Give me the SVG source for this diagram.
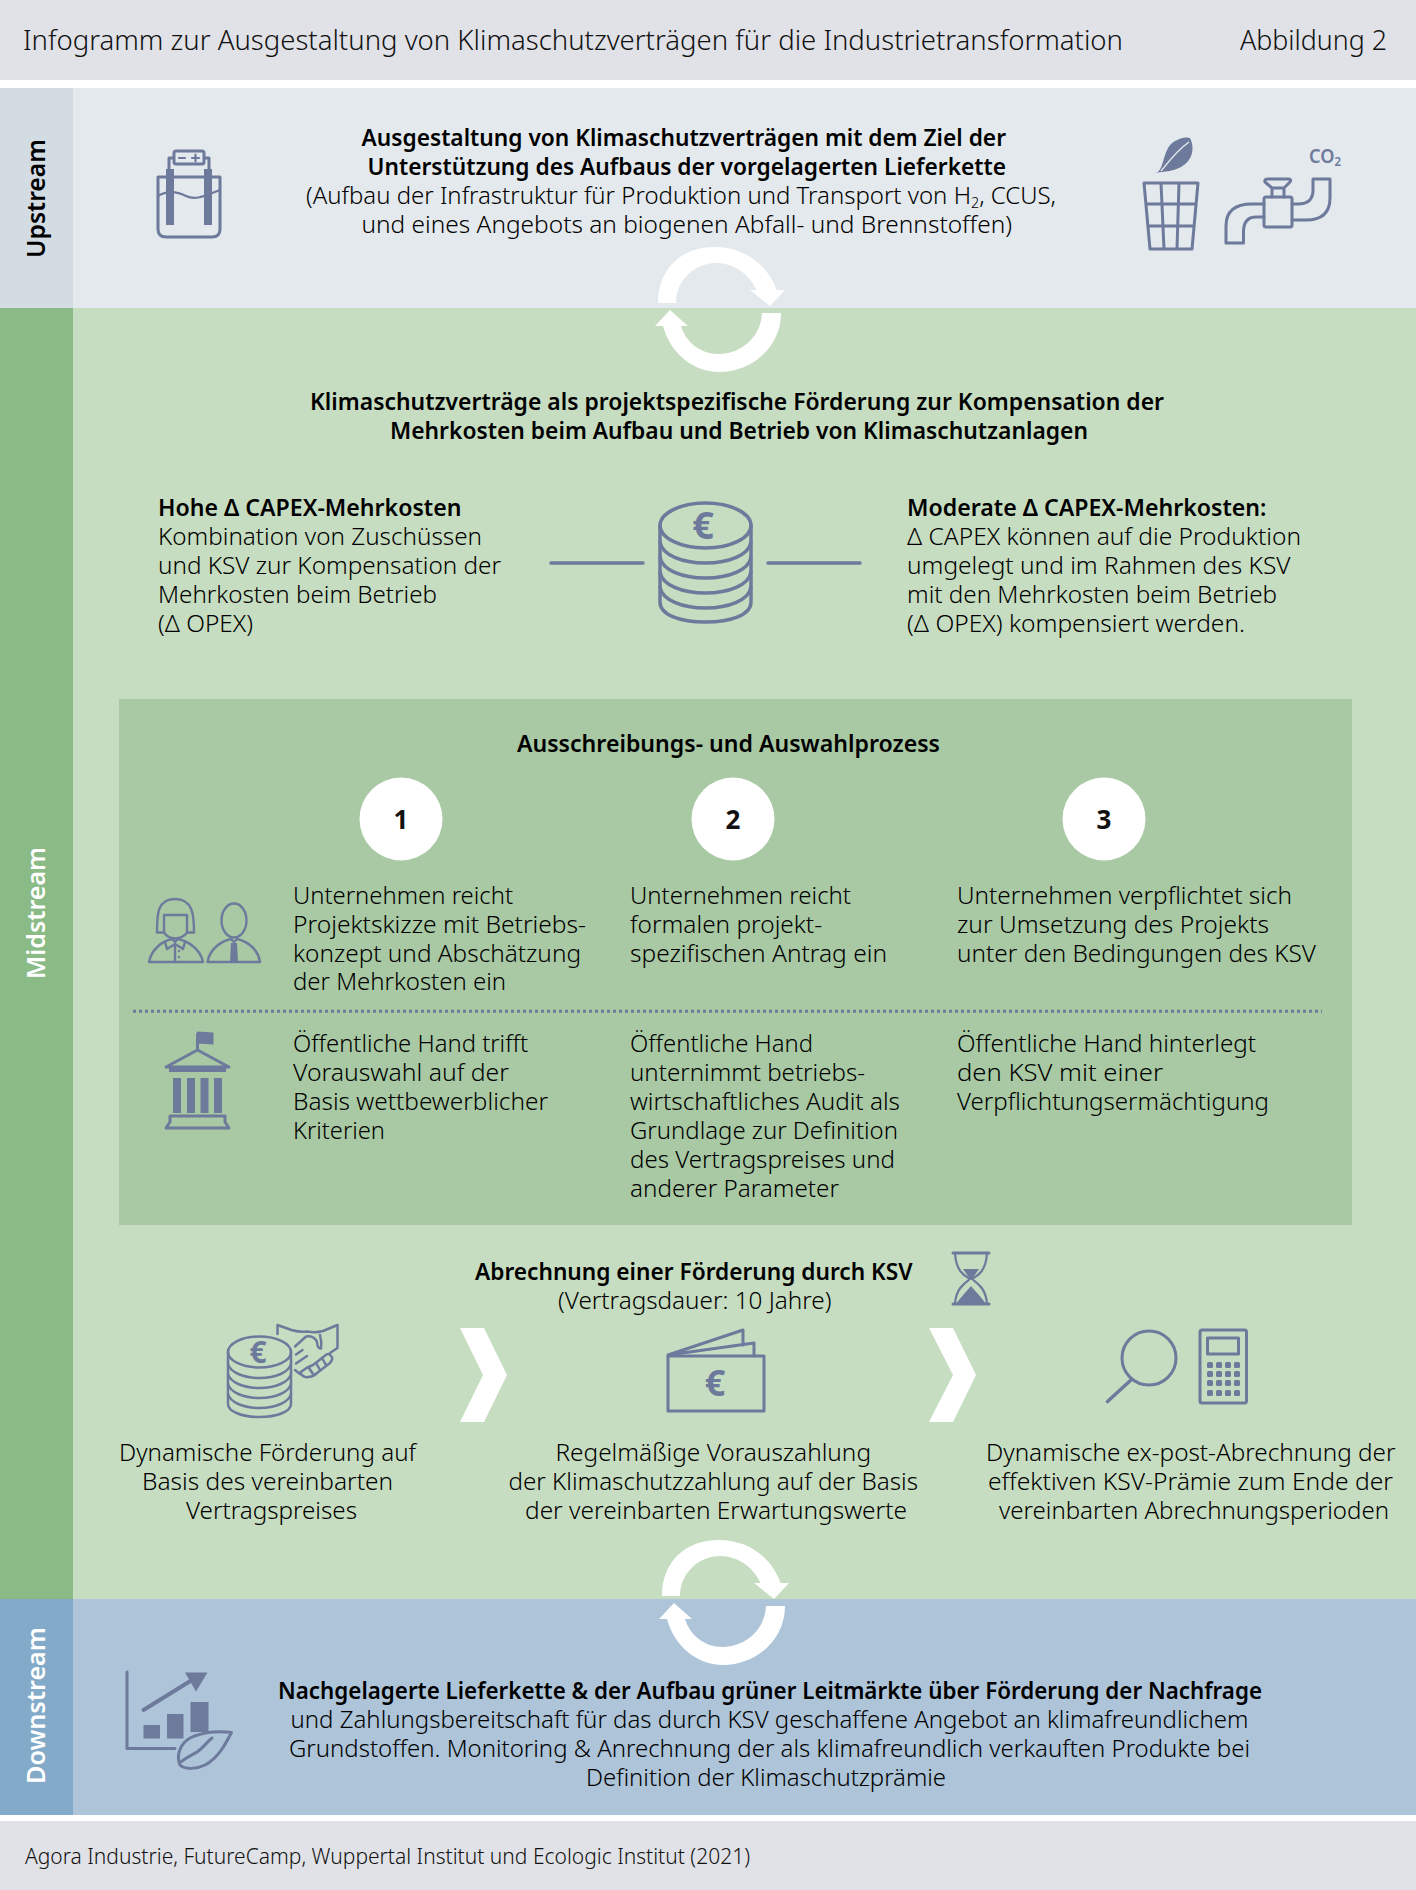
<svg xmlns="http://www.w3.org/2000/svg" width="1416" height="1890" viewBox="0 0 1416 1890">
<style>
text{font-family:"Noto Sans","Liberation Sans",sans-serif;font-size:23.5px;fill:#000;font-weight:300}
.b{font-weight:600;fill:#000}
.s{font-weight:600;font-size:25px}
.w{fill:#fff}
.h{font-size:27px;fill:#111}
.f{font-size:21px;fill:#111}
.n{font-weight:700;font-size:26px;fill:#111;text-anchor:middle}
.e{font-weight:700;fill:#6d7a9c;text-anchor:middle}
.i{fill:none;stroke:#6d7a9c;stroke-width:3;stroke-linejoin:round;stroke-linecap:round}
.t{stroke-width:2.2}
.fl{fill:#6d7a9c;stroke:none}
</style>
<defs>
<g id="cycle" fill="#fff">
<path d="M658,303C658,268 682,247 715,247C745,247 768,265 777,291L757,291C750,275 735,263 716,263C695,263 676,280 676,303Z"/>
<path d="M781,313C781,347 752,372 719,372C692,372 670,352 663,326L681,326C686,342 700,354 719,354C741,354 761,337 762,313Z"/>
<polygon points="750,290 785,290 770,306"/>
<polygon points="655,326 688,326 670,310"/>
</g>
</defs>
<g id="bands">
<rect x="0" y="0" width="1416" height="1890" fill="#fff"/>
<rect x="0" y="0" width="1416" height="80" fill="#e0e2e7"/>
<rect x="0" y="88" width="1416" height="220" fill="#e4e9ed"/>
<rect x="0" y="88" width="73" height="220" fill="#d3dbe3"/>
<rect x="0" y="308" width="1416" height="1291" fill="#c7ddc1"/>
<rect x="0" y="308" width="73" height="1291" fill="#8aba85"/>
<rect x="0" y="1599" width="1416" height="216" fill="#adc4d9"/>
<rect x="0" y="1599" width="73" height="216" fill="#83abc9"/>
<rect x="0" y="1821" width="1416" height="69" fill="#e0e2e7"/>
<rect x="119" y="699" width="1233" height="526" fill="#a9c9a4"/>
</g>
<g id="header">
<text class="h" x="23" y="50" textLength="1100" lengthAdjust="spacingAndGlyphs">Infogramm zur Ausgestaltung von Klimaschutzverträgen für die Industrietransformation</text>
<text class="h" x="1240" y="50" textLength="147" lengthAdjust="spacingAndGlyphs">Abbildung 2</text>
</g>
<g id="labels">
<text class="s" transform="translate(45,258) rotate(-90)" textLength="119" lengthAdjust="spacingAndGlyphs">Upstream</text>
<text class="s w" transform="translate(45,979) rotate(-90)" textLength="132" lengthAdjust="spacingAndGlyphs">Midstream</text>
<text class="s w" transform="translate(45,1784) rotate(-90)" textLength="157" lengthAdjust="spacingAndGlyphs">Downstream</text>
</g>
<g id="cycle-top"><use href="#cycle"/></g>
<g id="cycle-bottom"><use href="#cycle" transform="translate(4,1293)"/></g>
<g id="upstream">
<text class="b" x="361.500" y="146" textLength="644.500" lengthAdjust="spacingAndGlyphs">Ausgestaltung von Klimaschutzverträgen mit dem Ziel der</text>
<text class="b" x="367.500" y="175" textLength="638.500" lengthAdjust="spacingAndGlyphs">Unterstützung des Aufbaus der vorgelagerten Lieferkette</text>
<text x="306" y="204" textLength="750" lengthAdjust="spacingAndGlyphs">(Aufbau der Infrastruktur für Produktion und Transport von H<tspan font-size="14" dy="4">2</tspan><tspan dy="-4">, CCUS,</tspan></text>
<text x="361.500" y="233" textLength="650.500" lengthAdjust="spacingAndGlyphs">und eines Angebots an biogenen Abfall- und Brennstoffen)</text>
</g>
<g id="icon-battery" class="i">
<path d="M158,177H220V229Q220,237 212,237H166Q158,237 158,229Z"/>
<path d="M169,177V158H209V177"/>
<rect x="174" y="151" width="30" height="13" rx="2" fill="#e4e9ed"/>
<path d="M179,158h6M192,158h7M195.500,154.500v7" class="i t"/>
<path d="M158,196C168,190 178,192 186,196S200,198 220,190" class="i t"/>
<rect class="fl" x="166" y="169" width="8" height="56"/>
<rect class="fl" x="204" y="169" width="8" height="56"/>
</g>
<g id="icon-waste">
<path class="fl" d="M1156,173C1165,170 1162,148 1175,141C1182,137 1187,137 1190,138C1195,148 1193,160 1181,167C1172,172 1165,171 1156,173Z"/>
<path d="M1161,171C1168,163 1175,152 1189,142" fill="none" stroke="#e4e9ed" stroke-width="1.500"/>
<path class="i" d="M1144,183H1198L1192,249H1150ZM1146,204H1196M1148,226H1194M1161,183L1164,249M1179,183L1177,249"/>
</g>
<g id="icon-faucet" class="i">
<path d="M1226,243V226Q1226,204 1252,204H1264M1243.500,243V232Q1243.500,217 1256,217H1264M1226,243H1243.500"/>
<rect x="1264" y="197" width="28" height="30" rx="2"/>
<path d="M1272,197V188L1265,182Q1264,179 1268,179H1288Q1292,179 1290,182L1284,188V197M1272,188H1284"/>
<path d="M1292,204H1298Q1313,204 1313,190V179H1330V198Q1330,220 1306,220H1292"/>
</g>
<text id="label-co2" x="1309" y="163" style="font-weight:600;fill:#6d7a9c;font-size:19px" textLength="32" lengthAdjust="spacingAndGlyphs">CO<tspan style="font-size:12px" dy="3">2</tspan></text>
<g id="midstream-head">
<text class="b" x="310" y="410" textLength="854" lengthAdjust="spacingAndGlyphs">Klimaschutzverträge als projektspezifische Förderung zur Kompensation der</text>
<text class="b" x="390" y="439" textLength="698" lengthAdjust="spacingAndGlyphs">Mehrkosten beim Aufbau und Betrieb von Klimaschutzanlagen</text>
<text class="b" x="158" y="516" textLength="303.500" lengthAdjust="spacingAndGlyphs">Hohe Δ CAPEX-Mehrkosten</text>
<text x="158" y="545" textLength="324" lengthAdjust="spacingAndGlyphs">Kombination von Zuschüssen</text>
<text x="158" y="574" textLength="343" lengthAdjust="spacingAndGlyphs">und KSV zur Kompensation der</text>
<text x="158" y="603" textLength="279" lengthAdjust="spacingAndGlyphs">Mehrkosten beim Betrieb</text>
<text x="158" y="632" textLength="95" lengthAdjust="spacingAndGlyphs">(Δ OPEX)</text>
<text class="b" x="907" y="516" textLength="359.500" lengthAdjust="spacingAndGlyphs">Moderate Δ CAPEX-Mehrkosten:</text>
<text x="907" y="545" textLength="394" lengthAdjust="spacingAndGlyphs">Δ CAPEX können auf die Produktion</text>
<text x="907" y="574" textLength="383.500" lengthAdjust="spacingAndGlyphs">umgelegt und im Rahmen des KSV</text>
<text x="907" y="603" textLength="370" lengthAdjust="spacingAndGlyphs">mit den Mehrkosten beim Betrieb</text>
<text x="907" y="632" textLength="338" lengthAdjust="spacingAndGlyphs">(Δ OPEX) kompensiert werden.</text>
</g>
<g id="icon-coins" class="i" style="stroke-width:3.500">
<ellipse cx="705.500" cy="525.500" rx="45.500" ry="22.500"/>
<path d="M660,525.500V602C660,615 680,622 705.500,622S751,615 751,602V525.500"/>
<path d="M660,542C662,555 682,563 705.500,563S749,555 751,542M660,557C662,570 682,578 705.500,578S749,570 751,557M660,572C662,585 682,593 705.500,593S749,585 751,572M660,587C662,600 682,608 705.500,608S749,600 751,587"/>
<path d="M551,563H643M768,563H860"/>
</g>
<text id="euro-1" class="e" x="703" y="539" style="font-size:38px">€</text>
<g id="process-head">
<text class="b" x="517" y="752" textLength="423" lengthAdjust="spacingAndGlyphs">Ausschreibungs- und Auswahlprozess</text>
</g>
<g id="step-1"><circle cx="401" cy="819" r="41.500" fill="#fff"/><text class="n" x="401" y="829">1</text></g>
<g id="step-2"><circle cx="733" cy="819" r="41.500" fill="#fff"/><text class="n" x="733" y="829">2</text></g>
<g id="step-3"><circle cx="1104" cy="819" r="41.500" fill="#fff"/><text class="n" x="1104" y="829">3</text></g>
<g id="icon-people" class="i" style="stroke-width:2.400">
<path d="M157,932.500C157,915 157,899 175,899S194,915 194,932.500Z"/>
<path d="M164,932.500V915H187V932.500C187,932 185,938 175,938.500C166,938 164,932 164,932.500Z" fill="#a9c9a4"/>
<path d="M149,962C152,948 163,941 172,939L175,942L178,939C187,941 200,948 203,962Z"/>
<path d="M165,942L167,949L175,944L183,949L185,942M175,944V962"/>
<circle class="fl" cx="179" cy="951" r="1.200"/><circle class="fl" cx="179" cy="957" r="1.200"/>
<ellipse cx="234" cy="920.500" rx="12.500" ry="17"/>
<path d="M207.500,962C210,948 222,941 231,939L234,942L237,939C246,941 258,948 260,962Z"/>
<path class="fl" d="M231,943H237L238,962H230Z"/>
</g>
<g id="icon-gov">
<path class="i" d="M197.500,1034V1048"/>
<path class="fl" d="M197,1031.500L213.500,1032.500V1044.500L197,1043.500Z"/>
<path class="i" d="M166,1067L197.500,1050L229,1067Z"/>
<rect class="fl" x="169" y="1068" width="57" height="4"/>
<rect class="fl" x="173" y="1078" width="8" height="35"/>
<rect class="fl" x="187" y="1078" width="8" height="35"/>
<rect class="fl" x="200.500" y="1078" width="8" height="35"/>
<rect class="fl" x="214" y="1078" width="8" height="35"/>
<path class="i" d="M170,1116H225V1122L229,1128H166L170,1122Z"/>
</g>
<g id="step-texts">
<text x="293" y="904" textLength="220" lengthAdjust="spacingAndGlyphs">Unternehmen reicht</text>
<text x="293" y="933" textLength="293" lengthAdjust="spacingAndGlyphs">Projektskizze mit Betriebs-</text>
<text x="293" y="962" textLength="288" lengthAdjust="spacingAndGlyphs">konzept und Abschätzung</text>
<text x="293" y="990" textLength="213" lengthAdjust="spacingAndGlyphs">der Mehrkosten ein</text>
<text x="630" y="904" textLength="221" lengthAdjust="spacingAndGlyphs">Unternehmen reicht</text>
<text x="630" y="933" textLength="192" lengthAdjust="spacingAndGlyphs">formalen projekt-</text>
<text x="630" y="962" textLength="257" lengthAdjust="spacingAndGlyphs">spezifischen Antrag ein</text>
<text x="957" y="904" textLength="335" lengthAdjust="spacingAndGlyphs">Unternehmen verpflichtet sich</text>
<text x="957" y="933" textLength="312" lengthAdjust="spacingAndGlyphs">zur Umsetzung des Projekts</text>
<text x="957" y="962" textLength="359" lengthAdjust="spacingAndGlyphs">unter den Bedingungen des KSV</text>
<text x="293" y="1052" textLength="235" lengthAdjust="spacingAndGlyphs">Öffentliche Hand trifft</text>
<text x="293" y="1081" textLength="216" lengthAdjust="spacingAndGlyphs">Vorauswahl auf der</text>
<text x="293" y="1110" textLength="255" lengthAdjust="spacingAndGlyphs">Basis wettbewerblicher</text>
<text x="293" y="1139" textLength="92" lengthAdjust="spacingAndGlyphs">Kriterien</text>
<text x="630" y="1052" textLength="183" lengthAdjust="spacingAndGlyphs">Öffentliche Hand</text>
<text x="630" y="1081" textLength="235" lengthAdjust="spacingAndGlyphs">unternimmt betriebs-</text>
<text x="630" y="1110" textLength="270" lengthAdjust="spacingAndGlyphs">wirtschaftliches Audit als</text>
<text x="630" y="1139" textLength="268" lengthAdjust="spacingAndGlyphs">Grundlage zur Definition</text>
<text x="630" y="1168" textLength="265" lengthAdjust="spacingAndGlyphs">des Vertragspreises und</text>
<text x="630" y="1197" textLength="209" lengthAdjust="spacingAndGlyphs">anderer Parameter</text>
<text x="957" y="1052" textLength="299" lengthAdjust="spacingAndGlyphs">Öffentliche Hand hinterlegt</text>
<text x="957" y="1081" textLength="206" lengthAdjust="spacingAndGlyphs">den KSV mit einer</text>
<text x="957" y="1110" textLength="312" lengthAdjust="spacingAndGlyphs">Verpflichtungsermächtigung</text>
</g>
<g id="connectors">
<path d="M133,1011.300H1322" fill="none" stroke="#6d7a9c" stroke-width="3" stroke-dasharray="3 3"/>
<polygon fill="#fff" points="460,1328 484,1328 507,1375 484,1422 460,1422 483,1375"/>
<polygon fill="#fff" points="929,1328 953,1328 976,1375 953,1422 929,1422 953,1375"/>
</g>
<g id="billing">
<text class="b" x="475" y="1280" textLength="437.500" lengthAdjust="spacingAndGlyphs">Abrechnung einer Förderung durch KSV</text>
<text x="558" y="1309" textLength="273.500" lengthAdjust="spacingAndGlyphs">(Vertragsdauer: 10 Jahre)</text>
<text x="119" y="1461" textLength="297" lengthAdjust="spacingAndGlyphs">Dynamische Förderung auf</text>
<text x="142" y="1490" textLength="251" lengthAdjust="spacingAndGlyphs">Basis des vereinbarten</text>
<text x="186" y="1519" textLength="171" lengthAdjust="spacingAndGlyphs">Vertragspreises</text>
<text x="555.500" y="1461" textLength="315.500" lengthAdjust="spacingAndGlyphs">Regelmäßige Vorauszahlung</text>
<text x="508.500" y="1490" textLength="409.500" lengthAdjust="spacingAndGlyphs">der Klimaschutzzahlung auf der Basis</text>
<text x="525" y="1519" textLength="382" lengthAdjust="spacingAndGlyphs">der vereinbarten Erwartungswerte</text>
<text x="986" y="1461" textLength="409.500" lengthAdjust="spacingAndGlyphs">Dynamische ex-post-Abrechnung der</text>
<text x="988" y="1490" textLength="405" lengthAdjust="spacingAndGlyphs">effektiven KSV-Prämie zum Ende der</text>
<text x="999" y="1519" textLength="390" lengthAdjust="spacingAndGlyphs">vereinbarten Abrechnungsperioden</text>
</g>
<g id="icon-hourglass">
<path class="i t" d="M955,1253C956,1272 965,1276 970,1279C965,1283 956,1288 955,1304M987,1253C986,1272 977,1276 972,1279C977,1283 986,1288 987,1304"/>
<path class="i" d="M953,1253H989M953,1304H989"/>
<path class="fl" d="M963,1269H979L972,1279H970Z"/>
<path class="fl" d="M956,1304C960,1298 966,1292 971,1286C976,1292 982,1298 986,1304Z"/>
</g>
<g id="icon-coins-hand" class="i" style="stroke-width:2.500">
<path d="M277.500,1334V1325L291.500,1330Q300,1332.500 307,1331.500Q316,1333 323,1331L337.500,1325V1348L330,1353"/>
<path d="M295,1346.500L306,1336.500Q314,1335 317,1342Q317.500,1349 321,1348.500Q322,1342 320,1335"/>
<path d="M296,1354.500L302.500,1350M296,1363.500L307,1356M295,1370L300,1374"/>
<path d="M300,1373Q304,1378 308,1377Q313,1377 317,1373L330,1363Q334,1358 331,1356Q329,1353 326.500,1354.500L313,1365L306.500,1368L301.500,1371.500Z"/>
<path d="M309,1368L313,1374M316,1363L320,1370M322,1358L326,1365"/>
<ellipse cx="259.500" cy="1352" rx="31.500" ry="15.500" fill="#c7ddc1"/>
<path d="M228,1352V1404C228,1412 243,1417 259.500,1417S291,1412 291,1404V1352"/>
<path d="M228,1364C230,1372 243,1378 259.500,1378S289,1372 291,1364M228,1374C230,1382 243,1388 259.500,1388S289,1382 291,1374M228,1384C230,1392 243,1398 259.500,1398S289,1392 291,1384M228,1394C230,1402 243,1408 259.500,1408S289,1402 291,1394"/>
</g>
<text id="euro-2" class="e" x="258" y="1363" style="font-size:30px">€</text>
<g id="icon-wallet" class="i">
<rect x="668" y="1356" width="96" height="55"/>
<path d="M668,1355L743,1330V1345M668,1355L754,1343V1356"/>
</g>
<text id="euro-3" class="e" x="715" y="1396" style="font-size:36px">€</text>
<g id="icon-magnifier" class="i">
<circle cx="1149" cy="1358" r="27"/>
<path d="M1131,1380L1107.500,1401.500" style="stroke-width:3.500"/>
</g>
<g id="icon-calc">
<rect class="i" x="1200" y="1330" width="46.500" height="73" rx="2"/>
<rect class="i" x="1207.500" y="1338" width="31" height="16"/>
<g fill="#6d7a9c">
<rect x="1207" y="1362" width="6" height="6" rx="1.500"/><rect x="1216" y="1362" width="6" height="6" rx="1.500"/><rect x="1225" y="1362" width="6" height="6" rx="1.500"/><rect x="1234" y="1362" width="6" height="6" rx="1.500"/>
<rect x="1207" y="1371" width="6" height="6" rx="1.500"/><rect x="1216" y="1371" width="6" height="6" rx="1.500"/><rect x="1225" y="1371" width="6" height="6" rx="1.500"/><rect x="1234" y="1371" width="6" height="6" rx="1.500"/>
<rect x="1207" y="1380" width="6" height="6" rx="1.500"/><rect x="1216" y="1380" width="6" height="6" rx="1.500"/><rect x="1225" y="1380" width="6" height="6" rx="1.500"/><rect x="1234" y="1380" width="6" height="6" rx="1.500"/>
<rect x="1207" y="1390" width="6" height="6" rx="1.500"/><rect x="1216" y="1390" width="6" height="6" rx="1.500"/><rect x="1225" y="1390" width="6" height="6" rx="1.500"/><rect x="1234" y="1390" width="6" height="6" rx="1.500"/>
</g>
</g>
<g id="icon-chart">
<path class="i" d="M127,1672V1748.500H175"/>
<path class="i" style="stroke-width:4" d="M143.500,1710L192,1680"/>
<path class="fl" d="M185,1672.500H207.500L196,1691.500Z"/>
<rect class="fl" x="143.500" y="1725" width="16.500" height="13.500"/>
<rect class="fl" x="167" y="1714" width="16.500" height="24.500"/>
<rect class="fl" x="190.500" y="1702" width="18" height="30"/>
<path class="i" d="M231.500,1732.500C222,1731 205,1731 190,1738C180,1744 176,1755 180,1765C185,1770 197,1769 205,1765C218,1758 225,1745 231.500,1732.500ZM181.500,1761.500C187,1757 192,1755 197,1752C203,1748 207,1742 212,1738"/>
</g>
<g id="downstream">
<text class="b" x="278" y="1699" textLength="984" lengthAdjust="spacingAndGlyphs">Nachgelagerte Lieferkette &amp; der Aufbau grüner Leitmärkte über Förderung der Nachfrage</text>
<text x="290.500" y="1728" textLength="958" lengthAdjust="spacingAndGlyphs">und Zahlungsbereitschaft für das durch KSV geschaffene Angebot an klimafreundlichem</text>
<text x="289" y="1757" textLength="961" lengthAdjust="spacingAndGlyphs">Grundstoffen. Monitoring &amp; Anrechnung der als klimafreundlich verkauften Produkte bei</text>
<text x="586" y="1786" textLength="360" lengthAdjust="spacingAndGlyphs">Definition der Klimaschutzprämie</text>
</g>
<g id="footer"><text class="f" x="25" y="1864" textLength="725" lengthAdjust="spacingAndGlyphs">Agora Industrie, FutureCamp, Wuppertal Institut und Ecologic Institut (2021)</text></g>
</svg>
